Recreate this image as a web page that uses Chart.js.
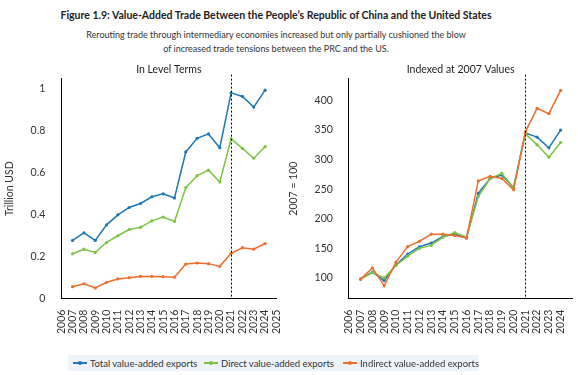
<!DOCTYPE html>
<html>
<head>
  <meta charset="utf-8">
  <title>Value-Added Trade Between the PRC and the US</title>
  <script src="https://cdn.jsdelivr.net/npm/chart.js"></script>
  <style>
    body {
      margin: 0;
      width: 578px;
      height: 375px;
      background: #fff;
      font-family: Lato, "Open Sans", sans-serif;
      color: #222;
      position: relative;
      overflow: hidden;
    }
    .title {
      position: absolute;
      top: 9px;
      left: 0;
      width: 552px;
      text-align: center;
      font-weight: bold;
      font-size: 10.5px;
    }
    .subtitle {
      position: absolute;
      top: 28px;
      left: 0;
      width: 552px;
      text-align: center;
      font-size: 9px;
      line-height: 14px;
      color: #333;
    }
    .panel { position: absolute; top: 62px; height: 275px; }
    #leftBox { left: 0; width: 292px; }
    #rightBox { left: 287px; width: 301px; }
    .legend {
      position: absolute;
      left: 68px;
      top: 355px;
      width: 410px;
      height: 16px;
      background: #eef3fa;
      font-size: 9.5px;
      color: #333;
    }
    .legend span.item {
      position: absolute;
      top: 0;
      height: 16px;
      display: inline-flex;
      align-items: center;
      white-space: nowrap;
    }
    .legend span.item:nth-child(1) { left: 5px; }
    .legend span.item:nth-child(2) { left: 136px; }
    .legend span.item:nth-child(3) { left: 275px; }
    .legend .mark {
      display: inline-block;
      width: 14px;
      height: 1.5px;
      margin-right: 3px;
      position: relative;
    }
    .legend .mark::after {
      content: "";
      position: absolute;
      left: 5px;
      top: -1.5px;
      width: 4px;
      height: 4px;
      border-radius: 50%;
      background: inherit;
    }
  </style>
</head>
<body>
  <div class="title">Figure 1.9: Value-Added Trade Between the People’s Republic of China and the United States</div>
  <div class="subtitle">Rerouting trade through intermediary economies increased but only partially cushioned the blow<br>of increased trade tensions between the PRC and the US.</div>

  <div class="panel" id="leftBox"><canvas id="levelChart"></canvas></div>
  <div class="panel" id="rightBox"><canvas id="indexChart"></canvas></div>
  <div class="legend" id="legend"></div>

  <script>
    // x axis categories (2006 and 2025 are empty slots at the ends)
    const years = ['2006', '2007', '2008', '2009', '2010', '2011', '2012', '2013', '2014', '2015',
                   '2016', '2017', '2018', '2019', '2020', '2021', '2022', '2023', '2024', '2025'];

    const seriesNames = ['Total value-added exports', 'Direct value-added exports', 'Indirect value-added exports'];
    const seriesColors = ['#1f77b4', '#7dc242', '#ee6f2d'];

    // In level terms, trillion USD (2006 ... 2025)
    const levelTotal = [null, 0.278, 0.314, 0.278, 0.352, 0.400, 0.435, 0.454, 0.486, 0.500,
                        0.480, 0.700, 0.765, 0.786, 0.720, 0.982, 0.965, 0.914, 0.995, null];
    const levelDirect = [null, 0.214, 0.236, 0.220, 0.268, 0.300, 0.330, 0.340, 0.371, 0.389,
                         0.368, 0.530, 0.587, 0.613, 0.557, 0.762, 0.717, 0.670, 0.725, null];
    const levelIndirect = [null, 0.057, 0.071, 0.051, 0.078, 0.094, 0.100, 0.106, 0.106, 0.105,
                           0.102, 0.165, 0.170, 0.167, 0.154, 0.216, 0.243, 0.236, 0.263, null];

    // Indexed at 2007 values (2007 = 100)
    const indexTotal = [null, 98, 110, 95.5, 122, 140.5, 152.7, 159, 170, 174,
                        167.7, 243, 268, 274, 252.7, 345, 338, 320, 350, null];
    const indexDirect = [null, 98, 109, 100, 121, 137, 150, 155, 169, 176.7,
                         169, 237.7, 268, 276.7, 252.7, 344, 325, 304, 329, null];
    const indexIndirect = [null, 98, 117, 86.7, 126.7, 153, 162, 174, 174, 171.7,
                           167.7, 264, 271.7, 268, 249, 347, 386.7, 377.7, 417, null];

    const markerYear = '2021';

    const tickFont = { family: 'Lato', size: 10.5 };

    // dotted vertical line at the marker year
    const markerLine = {
      id: 'markerLine',
      afterDatasetsDraw(chart) {
        const { ctx, chartArea, scales } = chart;
        const x = scales.x.getPixelForValue(years.indexOf(markerYear));
        ctx.save();
        ctx.strokeStyle = '#000';
        ctx.lineWidth = 1;
        ctx.setLineDash([2, 2]);
        ctx.beginPath();
        ctx.moveTo(Math.round(x) + 0.5, chartArea.top - 4);
        ctx.lineTo(Math.round(x) + 0.5, chartArea.bottom);
        ctx.stroke();
        ctx.restore();
      }
    };

    function makeDatasets(arrays) {
      return arrays.map((data, i) => ({
        label: seriesNames[i],
        data: data,
        borderColor: seriesColors[i],
        backgroundColor: seriesColors[i],
        borderWidth: 1.5,
        pointRadius: 1.6,
        pointBorderWidth: 0,
        tension: 0,
        order: 3 - i
      }));
    }

    function makeOptions(panelTitle, yTitle, yOpts, hideLast, padLeft) {
      return {
        responsive: true,
        maintainAspectRatio: false,
        animation: false,
        layout: { padding: { left: padLeft, right: 0, top: 0, bottom: 0 } },
        plugins: {
          legend: { display: false },
          tooltip: { enabled: false },
          title: {
            display: true,
            fullSize: false,
            text: panelTitle,
            color: '#222',
            font: { family: 'Lato', size: 10.5, weight: 'normal' },
            padding: { top: 1, bottom: 3 }
          }
        },
        scales: {
          x: {
            offset: false,
            grid: { display: false },
            border: { color: '#000', width: 1 },
            ticks: {
              color: '#333',
              font: tickFont,
              autoSkip: false,
              minRotation: 90,
              maxRotation: 90,
              padding: 3,
              callback: function (v) {
                const lab = this.getLabelForValue(v);
                return (hideLast && lab === '2025') ? '' : lab;
              }
            }
          },
          y: Object.assign({
            grid: { display: false },
            border: { color: '#000', width: 1 },
            title: {
              display: true,
              text: yTitle,
              color: '#333',
              font: tickFont,
              padding: { top: 0, bottom: 7 }
            }
          }, yOpts)
        }
      };
    }

    new Chart(document.getElementById('levelChart'), {
      type: 'line',
      data: { labels: years, datasets: makeDatasets([levelTotal, levelDirect, levelIndirect]) },
      options: makeOptions('In Level Terms', 'Trillion USD', {
        min: 0,
        max: 1.05,
        ticks: {
          stepSize: 0.2,
          includeBounds: false,
          color: '#333',
          font: tickFont,
          padding: 8,
          callback: v => String(+v.toFixed(1))
        }
      }, false, 3),
      plugins: [markerLine]
    });

    new Chart(document.getElementById('indexChart'), {
      type: 'line',
      data: { labels: years, datasets: makeDatasets([indexTotal, indexDirect, indexIndirect]) },
      options: makeOptions('Indexed at 2007 Values', '2007 = 100', {
        min: 65,
        max: 437,
        ticks: {
          stepSize: 50,
          includeBounds: false,
          color: '#333',
          font: tickFont,
          padding: 8
        }
      }, true, 0),
      plugins: [markerLine]
    });

    // legend built from the series names and colours
    const legend = document.getElementById('legend');
    seriesNames.forEach((name, i) => {
      const item = document.createElement('span');
      item.className = 'item';
      const mark = document.createElement('span');
      mark.className = 'mark';
      mark.style.background = seriesColors[i];
      item.appendChild(mark);
      item.appendChild(document.createTextNode(name));
      legend.appendChild(item);
    });
  </script>
</body>
</html>
